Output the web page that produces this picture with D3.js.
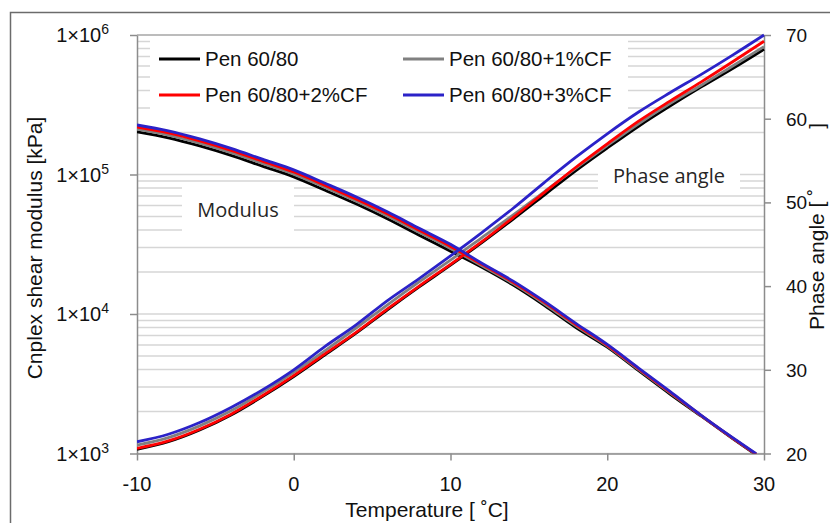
<!DOCTYPE html>
<html><head><meta charset="utf-8">
<script src="https://cdn.jsdelivr.net/npm/d3@7"></script>
<style>body{margin:0;background:#fff;} svg{display:block;}</style>
</head><body>
<svg id="chart" width="830" height="523"></svg>
<script>
// ---- Data ----
const temps = [-10,-8,-6,-4,-2,0,2,4,6,8,10,12,14,16,18,20,22,24,26,28,29.5];
const modPen      = [202000,183200,160300,137100,114800,96200,77100,61400,48000,36700,28200,21600,16100,11500,8000,5780,3920,2670,1850,1280,977];
const modPen1CF   = [211300,191900,167900,143500,120200,100700,80700,64300,50200,38500,29500,22200,16500,11800,8220,5890,3990,2720,1860,1290,984];
const modPen2CF   = [218800,198600,173800,148600,124500,104200,83600,66500,52000,39800,30500,22700,16900,12100,8410,5970,4050,2750,1870,1290,989];
const modPen3CF   = [226500,205600,179900,153800,128800,107900,86500,68900,53800,41200,31600,23100,17200,12300,8570,6050,4100,2790,1880,1300,995];

const phaseTemps = [-10,-8,-6,-4,-2,0,2,4,6,8,10,12,14,16,18,20,22,24,26,28,30];
const phasePen    = [20.5,21.4,22.8,24.6,26.8,29.2,31.8,34.4,37.2,39.9,42.5,45.2,48.0,50.9,53.8,56.5,59.1,61.5,63.8,66.0,68.3];
const phasePen1CF = [21.0,21.9,23.3,25.1,27.3,29.7,32.3,35.0,37.8,40.5,43.1,45.8,48.5,51.3,54.1,56.8,59.4,61.8,64.0,66.3,68.6];
const phasePen2CF = [20.6,21.5,22.9,24.7,26.9,29.3,31.9,34.5,37.3,40.0,42.6,45.3,48.2,51.2,54.2,57.0,59.7,62.1,64.4,66.8,69.25];
const phasePen3CF = [21.4,22.3,23.7,25.5,27.6,30.0,32.8,35.4,38.3,40.9,43.6,46.4,49.3,52.4,55.4,58.2,60.8,63.1,65.3,67.6,70.0];

const seriesNames = ["Pen 60/80","Pen 60/80+1%CF","Pen 60/80+2%CF","Pen 60/80+3%CF"];
const seriesColors = ["#000000","#808080","#ff0000","#2b22c8"];

const xTicks = [-10,0,10,20,30];
const leftTicks = [1e3,1e4,1e5,1e6];
const leftTickExp = ["3","4","5","6"];
const rightTicks = [20,30,40,50,60,70];

const xTitle = "Temperature [ ˚C]";
const yLeftTitle = "Cnplex shear modulus [kPa]";
const yRightTitleMain = "Phase angle [ ˚";
const yRightTitleEnd = "]";

// ---- Layout ----
const svg = d3.select("#chart");
const L = 137, R = 764, T = 35, B = 453.5;
const x = d3.scaleLinear().domain([-10,30]).range([L,R]);
const yL = d3.scaleLog().domain([1e3,1e6]).range([B,T]);
const yR = d3.scaleLinear().domain([20,70]).range([B,T]);
const font = "Arial, 'Liberation Sans', sans-serif";

// outer frame
svg.append("rect").attr("x",10.5).attr("y",12.5).attr("width",900).attr("height",700)
  .attr("fill","none").attr("stroke","#6b6b6b").attr("stroke-width",1.5);

// gridlines
const grid = [];
for (let e=3;e<6;e++) for (let k=1;k<10;k++) grid.push(k*Math.pow(10,e));
svg.append("g").selectAll("line").data(grid).join("line")
  .attr("x1",L).attr("x2",R).attr("y1",d=>yL(d)).attr("y2",d=>yL(d))
  .attr("stroke","#d6d6d6").attr("stroke-width",1.5);
svg.append("line").attr("x1",L).attr("x2",R).attr("y1",yL(1e6)).attr("y2",yL(1e6))
  .attr("stroke","#a6a6a6").attr("stroke-width",1.5);

// white label boxes
svg.append("rect").attr("x",150).attr("y",37).attr("width",478).attr("height",81).attr("fill","#fff");
svg.append("rect").attr("x",182).attr("y",185).attr("width",112).attr("height",50).attr("fill","#fff");
svg.append("rect").attr("x",598).attr("y",166).attr("width",142).attr("height",27).attr("fill","#fff");

// axes
const axStyle = g => { g.selectAll("path,line").attr("stroke","#8c8c8c").attr("stroke-width",1.5); g.selectAll("text").remove(); };
svg.append("g").attr("transform",`translate(${L},0)`)
  .call(d3.axisLeft(yL).tickValues(leftTicks).tickSize(7).tickSizeOuter(0).tickFormat(()=>"")).call(axStyle);
svg.append("g").attr("transform",`translate(${R},0)`)
  .call(d3.axisRight(yR).tickValues(rightTicks).tickSize(7).tickSizeOuter(0).tickFormat(()=>"")).call(axStyle);
svg.append("g").attr("transform",`translate(0,${B})`)
  .call(d3.axisBottom(x).tickValues(xTicks).tickSize(7).tickSizeOuter(0).tickFormat(()=>"")).call(axStyle);

// tick labels
leftTicks.forEach((v,i)=>{
  const t = svg.append("text").attr("x",109).attr("y",yL(v)+7).attr("text-anchor","end")
    .attr("font-family",font).attr("font-size",20).attr("fill","#111");
  t.append("tspan").text("1×10");
  t.append("tspan").attr("dy",-8).attr("font-size",14).text(leftTickExp[i]);
});
rightTicks.forEach(v=>{
  svg.append("text").attr("x",786).attr("y",yR(v)+7).attr("font-family",font).attr("font-size",19)
    .attr("fill","#111").text(v);
});
xTicks.forEach(v=>{
  svg.append("text").attr("x",x(v)).attr("y",491).attr("text-anchor","middle").attr("font-family",font)
    .attr("font-size",20).attr("fill","#111").text(v);
});

// axis titles
svg.append("text").attr("x",427).attr("y",517).attr("text-anchor","middle").attr("font-family",font)
  .attr("font-size",21).attr("fill","#111").text(xTitle);
svg.append("text").attr("transform","translate(42,248) rotate(-90)").attr("text-anchor","middle")
  .attr("font-family",font).attr("font-size",21).attr("fill","#111").text(yLeftTitle);
const rt = svg.append("text").attr("transform","translate(824,330) rotate(-90)").attr("text-anchor","start")
  .attr("font-family",font).attr("font-size",21).attr("fill","#111");
rt.append("tspan").text(yRightTitleMain);
rt.append("tspan").attr("dx",60).text(yRightTitleEnd);

// in-plot labels
svg.append("text").attr("x",238).attr("y",217).attr("text-anchor","middle").attr("font-family","'Open Sans', sans-serif")
  .attr("font-size",20).attr("fill","#262626").text("Modulus");
svg.append("text").attr("x",669).attr("y",183).attr("text-anchor","middle").attr("font-family","'Open Sans', sans-serif")
  .attr("font-size",20).attr("fill","#262626").text("Phase angle");

// clip
svg.append("clipPath").attr("id","plotclip").append("rect").attr("x",L).attr("y",T-3).attr("width",R-L+3).attr("height",B-T+3);
const plot = svg.append("g").attr("clip-path","url(#plotclip)");

const mods = [modPen,modPen1CF,modPen2CF,modPen3CF];
const phases = [phasePen,phasePen1CF,phasePen2CF,phasePen3CF];
const lineMod = d3.line().x(d=>x(d[0])).y(d=>yL(d[1])).curve(d3.curveMonotoneX);
const linePh = d3.line().x(d=>x(d[0])).y(d=>yR(d[1])).curve(d3.curveMonotoneX);
for (let i=0;i<4;i++){
  plot.append("path").attr("d",lineMod(temps.map((t,j)=>[t,mods[i][j]])))
    .attr("fill","none").attr("stroke",seriesColors[i]).attr("stroke-width",2.8);
  plot.append("path").attr("d",linePh(phaseTemps.map((t,j)=>[t,phases[i][j]])))
    .attr("fill","none").attr("stroke",seriesColors[i]).attr("stroke-width",2.8);
}

// legend
const legPos = [[159,59],[403,59],[159,95],[403,95]];
seriesNames.forEach((n,i)=>{
  const [lx,ly] = legPos[i];
  svg.append("line").attr("x1",lx).attr("x2",lx+41).attr("y1",ly).attr("y2",ly)
    .attr("stroke",seriesColors[i]).attr("stroke-width",2.8);
  svg.append("text").attr("x",lx+46).attr("y",ly+7).attr("font-family",font).attr("font-size",20.5)
    .attr("fill","#111").text(n);
});
</script>
</body></html>
